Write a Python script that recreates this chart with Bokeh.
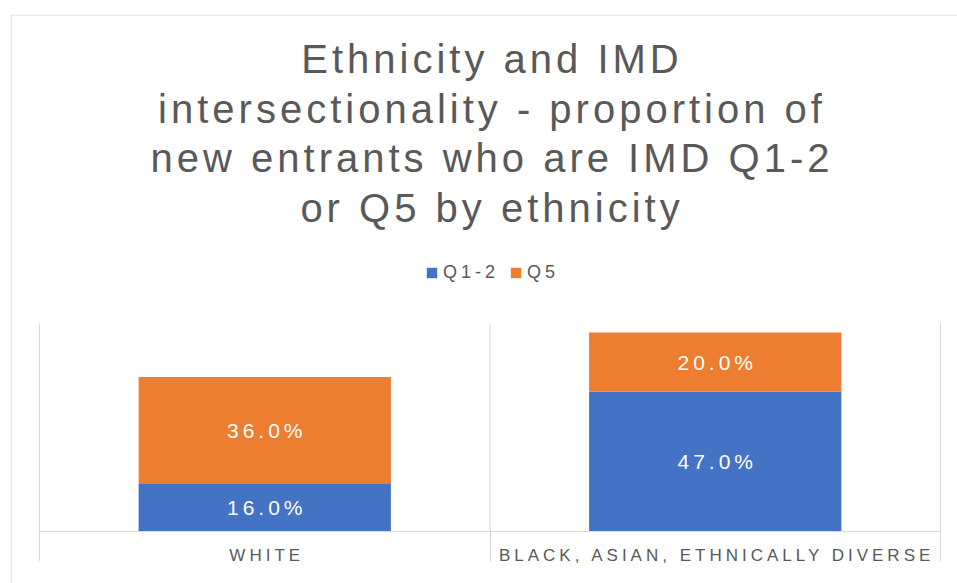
from bokeh.plotting import figure
from bokeh.models import (ColumnDataSource, Range1d, Span, Legend, LegendItem,
                          LinearAxis, FixedTicker)
from bokeh.core.properties import value
from bokeh.embed import file_html
from bokeh.resources import INLINE

# ---- data ----
categories = ["WHITE", "BLACK, ASIAN, ETHNICALLY DIVERSE"]
series = ["Q1-2", "Q5"]
q12 = [16.0, 47.0]
q5 = [36.0, 20.0]
colors = ["#4472C4", "#ED7D31"]
title_lines = ["Ethnicity and IMD",
               "intersectionality - proportion of",
               "new entrants who are IMD Q1-2",
               "or Q5 by ethnicity"]
y_max = 70

# ---- style / layout ----
FONT = "Liberation Sans"
GREY = "#595959"
LINE = "#d9d9d9"
LS = 4                      # letter spacing (px)
PX_X = 450.5                # pixels per category
PX_Y = 208 / y_max          # pixels per percentage point
n = len(categories)


def centre_fix(texts):
    # letter-spacing widens left-anchored text; shift it back to stay centred
    return [-(len(t) - 1) * LS / 2 for t in texts]


x_pos = [i + 0.5 for i in range(n)]
source = ColumnDataSource(dict(
    x=x_pos, category=categories, q12=q12, q5=q5,
    zero=[0] * n,
    q12_mid=[v / 2 for v in q12],
    q5_mid=[a + b / 2 for a, b in zip(q12, q5)],
    q12_lab=[f"{v:.1f}%" for v in q12],
    q5_lab=[f"{v:.1f}%" for v in q5],
))
source.data["q12_dx"] = centre_fix(source.data["q12_lab"])
source.data["q5_dx"] = centre_fix(source.data["q5_lab"])
source.data["cat_dx"] = centre_fix(categories)

x_range = Range1d(-29 / PX_X, n + 17 / PX_X)
y_range = Range1d(-52 / PX_Y, y_max + 309 / PX_Y)

p = figure(x_range=x_range, y_range=y_range, width=957, height=583,
           output_backend="svg", toolbar_location=None,
           x_axis_location=None, y_axis_location=None,
           min_border_left=10, min_border_right=0, min_border_top=14,
           min_border_bottom=0)
p.styles = {"letter-spacing": f"{LS}px"}
p.outline_line_color = None
p.grid.visible = False

# chart-area border (left and top edges visible in the window)
p.add_layout(Span(location=x_range.start + 0.5 / PX_X, dimension="height",
                  line_color=LINE, line_width=1))
p.add_layout(Span(location=y_range.end - 0.5 / PX_Y, dimension="width",
                  line_color=LINE, line_width=1))

# category separators
bounds = list(range(n + 1))
p.segment(x0=bounds, y0=[0] * len(bounds), x1=bounds, y1=[y_max] * len(bounds),
          line_color=LINE, line_width=1)

# category axis: line at 0 with long outward ticks at category boundaries
xa = LinearAxis(ticker=FixedTicker(ticks=bounds, minor_ticks=[]),
                fixed_location=0, bounds=(0, n),
                axis_line_color=LINE, major_tick_line_color=LINE,
                major_tick_out=30, major_tick_in=0, minor_tick_line_color=None,
                major_label_overrides={b: "" for b in bounds})
p.add_layout(xa, "below")

bars = p.vbar_stack(["q12", "q5"], x="x", width=0.56, color=colors,
                    line_color=None, source=source)

for ycol, tcol, dx in (("q12_mid", "q12_lab", "q12_dx"), ("q5_mid", "q5_lab", "q5_dx")):
    p.text(x="x", y=ycol, text=tcol, x_offset=dx, source=source,
           text_font=value(FONT), text_font_size="21px", text_color="white",
           text_align="center", text_baseline="middle")

# category labels
p.text(x="x", y="zero", text="category", x_offset="cat_dx", y_offset=14,
       source=source, text_font=value(FONT), text_font_size="17px",
       text_color=GREY, text_align="center", text_baseline="top")

# title
title_src = ColumnDataSource(dict(
    text=title_lines,
    x=[n / 2] * len(title_lines),
    y=[y_range.end] * len(title_lines),
    dy=[44, 94, 143, 193],
    dx=centre_fix(title_lines),
))
p.text(x="x", y="y", text="text", x_offset="dx", y_offset="dy", source=title_src,
       text_font=value(FONT), text_font_size="40px", text_color=GREY,
       text_align="center", text_baseline="alphabetic")

legend = Legend(items=[LegendItem(label=s, renderers=[r]) for s, r in zip(series, bars)],
                orientation="horizontal", location=(415, 300),
                glyph_width=13, glyph_height=13, label_height=13,
                label_standoff=5, spacing=10, padding=0, margin=0,
                label_text_font=FONT, label_text_font_size="18px",
                label_text_color=GREY, border_line_color=None,
                background_fill_alpha=0)
p.add_layout(legend, "center")

open("out.html", "w").write(file_html(p, INLINE))
